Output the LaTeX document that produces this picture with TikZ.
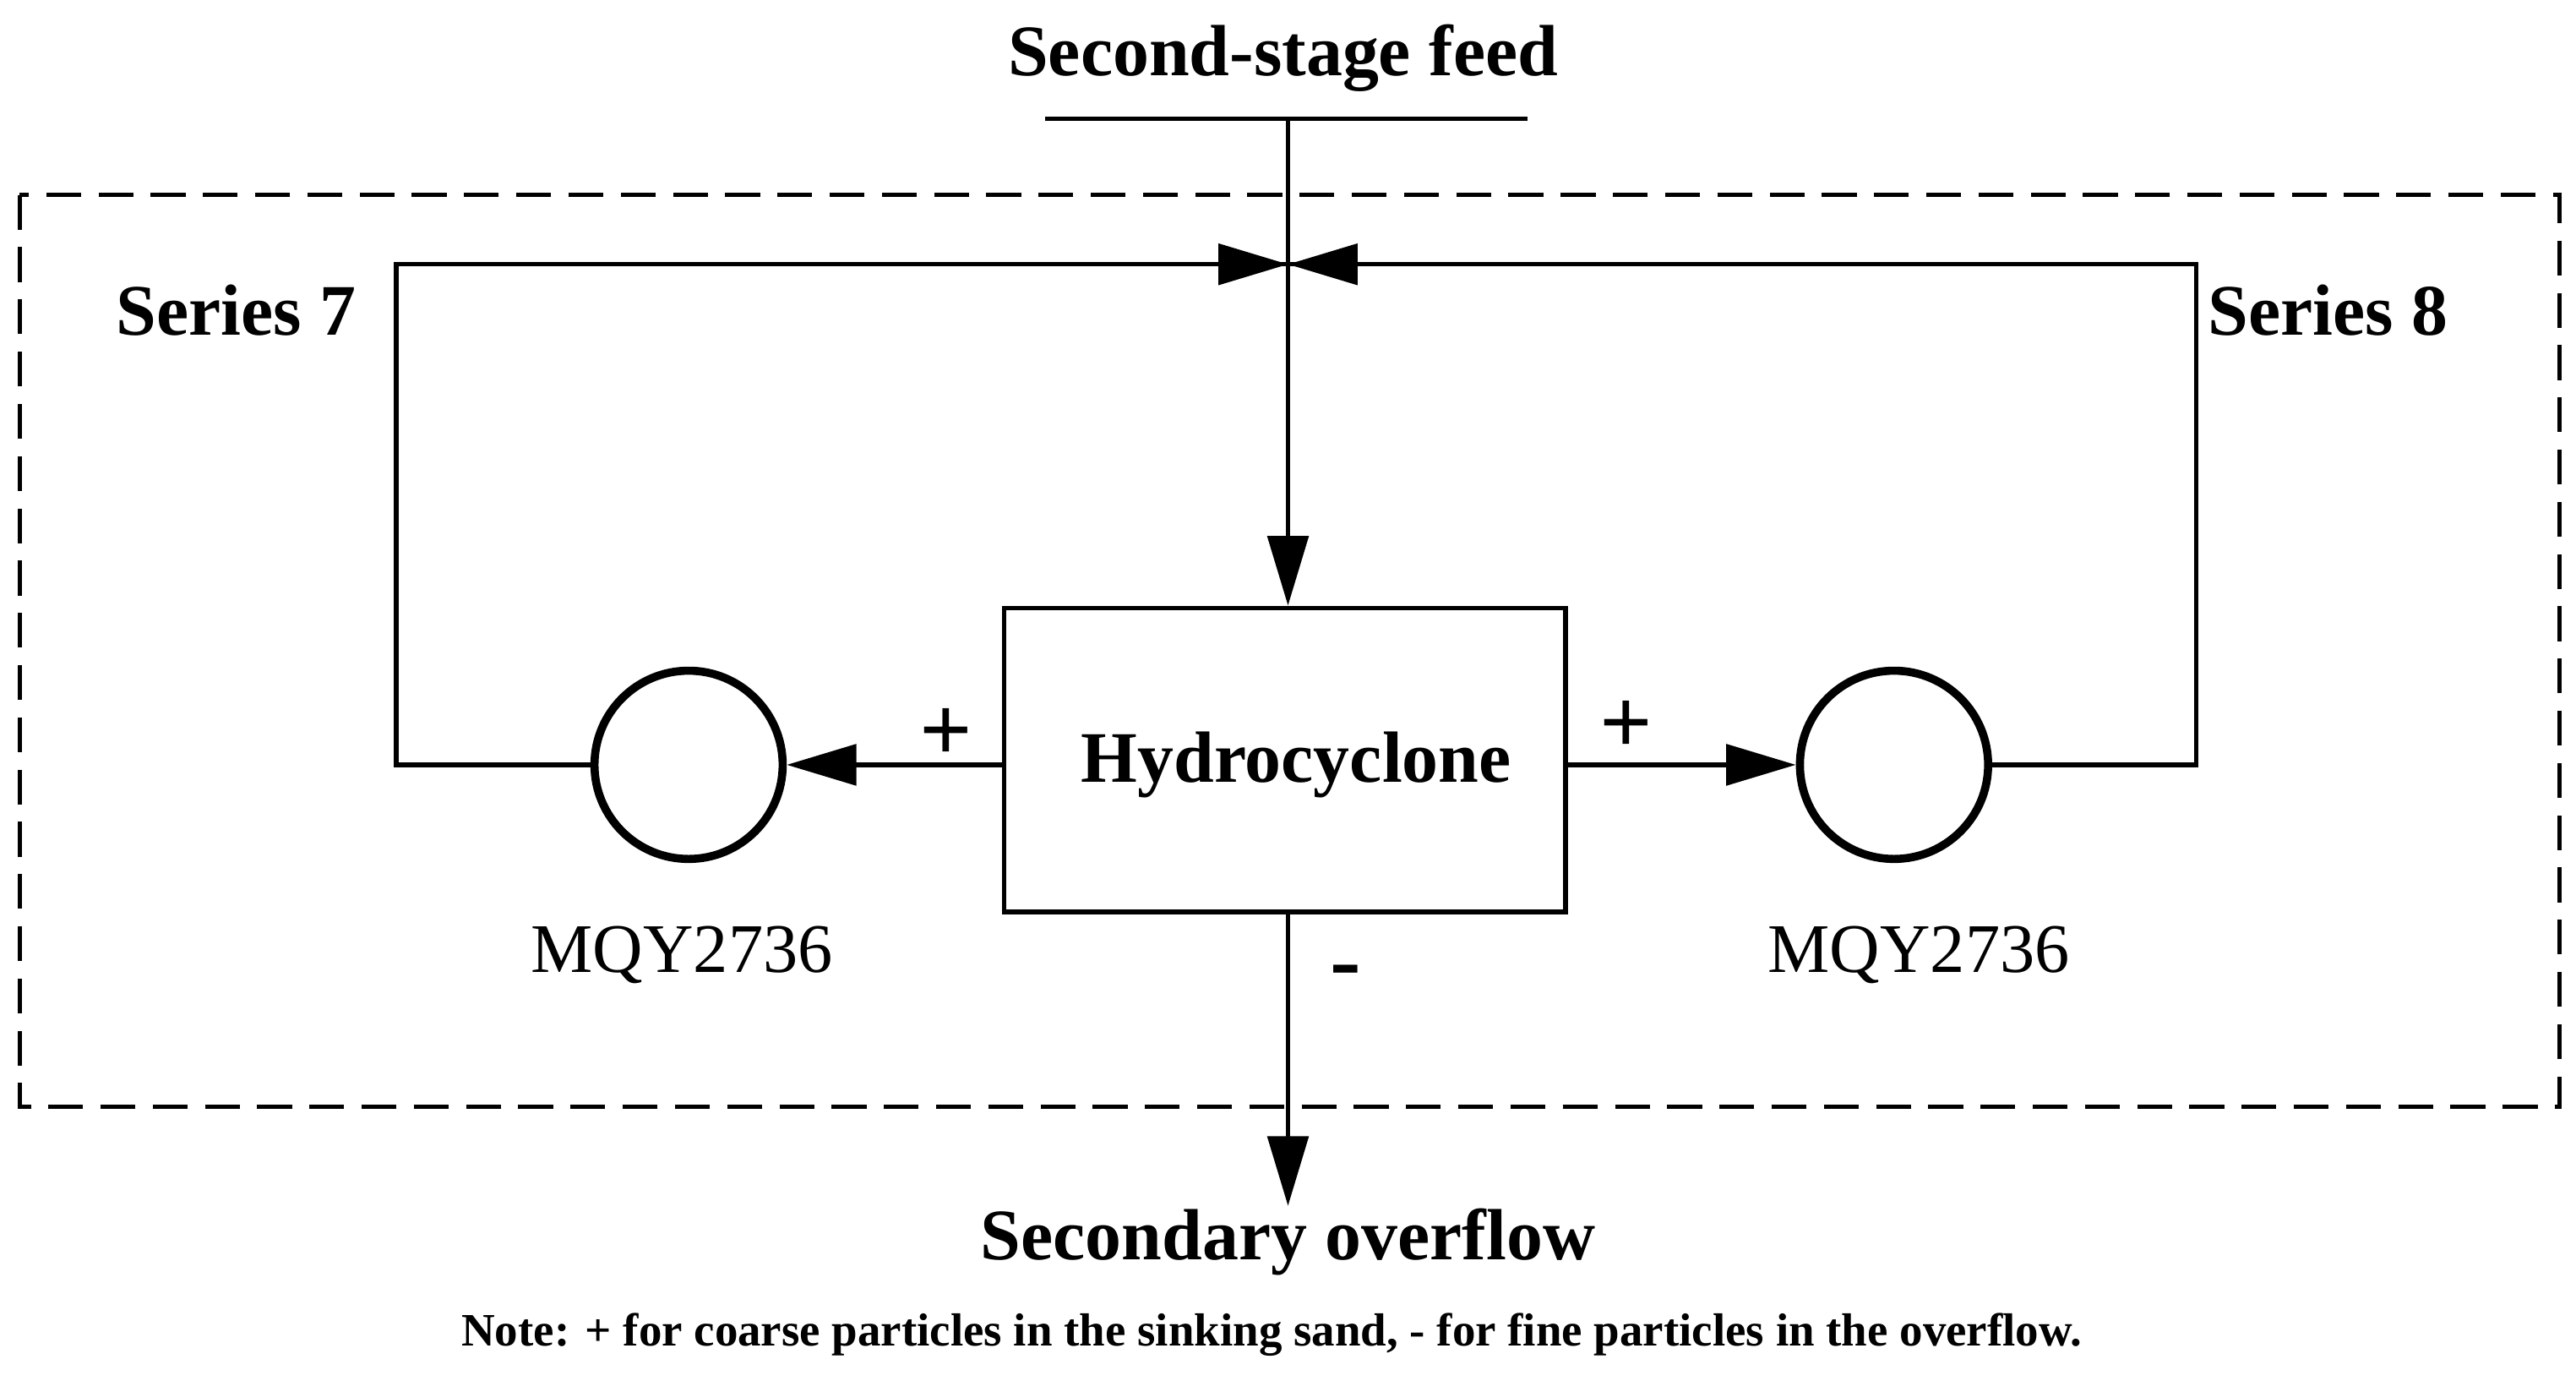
\documentclass[tikz,border=0pt]{standalone}
\usepackage{fontspec}
\setmainfont{Liberation Serif}
\usetikzlibrary{arrows.meta}
\begin{document}
\begin{tikzpicture}[x=0.02cm,y=-0.02cm,line width=1.6pt,
  arr/.style={-{Triangle[length=24pt,width=14pt]}},
  lbl/.style={font=\fontsize{25}{28}\selectfont\bfseries},
  pm/.style={font=\fontsize{32}{34}\selectfont\bfseries},
  mq/.style={font=\fontsize{24}{27}\selectfont},
  circ/.style={circle,draw,line width=2.8pt,minimum size=2.28cm,inner sep=0pt}]
\useasboundingbox (0,0) rectangle (1560,836);
\draw[dash pattern=on 12pt off 6pt] (12,118) rectangle (1550,670);
\node[lbl] (feed) at (777,35) {Second-stage feed};
\coordinate (fl) at (633,72); \coordinate (fr) at (925,72);
\draw (fl) -- (fr);
\node[draw,minimum width=6.8cm,minimum height=3.68cm,inner sep=0pt] (hc) at (778,460) {};
\node[lbl] at (785,463) {Hydrocyclone};
\coordinate (ftop) at (780,72);
\draw[arr] (ftop) -- (hc.north -| ftop);
\node[circ] (c1) at (417,463) {};
\node[circ] (c2) at (1147,463) {};
\draw[arr] (hc.west |- c1) -- (c1.east);
\draw[arr] (hc.east |- c2) -- (c2.west);
\coordinate (m) at (780,160);
\coordinate (l1) at (240,160); \coordinate (l2) at (240,463);
\coordinate (r1) at (1330,160); \coordinate (r2) at (1330,463);
\draw (c1.west) -- (l2) -- (l1) -- (m);
\draw (c2.east) -- (r2) -- (r1) -- (m);
\draw[arr] (l1) -- (m);
\draw[arr] (r1) -- (m);
\coordinate (bot) at (780,730);
\draw[arr] (hc.south -| bot) -- (bot);
\node[pm] at (573,445) {+};
\node[pm] at (985,440) {+};
\node[pm] at (815,592) {-};
\node[mq] at (413,578) {MQY2736};
\node[mq] at (1162,578) {MQY2736};
\node[lbl] at (143,188) {Series 7};
\node[lbl] at (1410,188) {Series 8};
\node[lbl] at (780,752) {Secondary overflow};
\node[font=\fontsize{16}{18}\selectfont\bfseries] at (770,808) {Note: + for coarse particles in the sinking sand, - for fine particles in the overflow.};
\end{tikzpicture}
\end{document}
